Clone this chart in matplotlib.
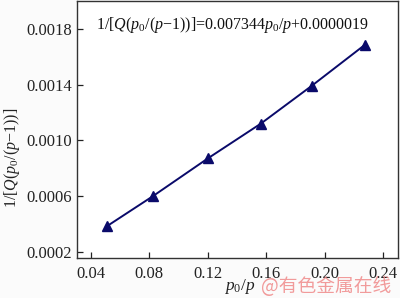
import matplotlib.pyplot as plt

# dados
p0_p = [0.0510, 0.0823, 0.1200, 0.1564, 0.1914, 0.2277]
inv_q = [0.000386, 0.000600, 0.000871, 0.001121, 0.001393, 0.001686]
xticks = [0.04, 0.08, 0.12, 0.16, 0.20, 0.24]
yticks = [0.0002, 0.0006, 0.0010, 0.0014, 0.0018]

plt.rcParams['font.family'] = ['Liberation Serif', 'DejaVu Serif']
plt.rcParams['mathtext.fontset'] = 'custom'
plt.rcParams['mathtext.rm'] = 'Liberation Serif'
plt.rcParams['mathtext.it'] = 'Liberation Serif:italic'

fig = plt.figure(figsize=(4, 2.98), dpi=100)
fig.patch.set_facecolor('#fbfbfb')
ax = fig.add_axes([0.1925, 0.134, 0.8025, 0.863])
ax.set_facecolor('white')

ax.plot(p0_p, inv_q, color='#0a0a6a', lw=1.4, marker='^', ms=6.5,
        markerfacecolor='#0a0a6a', markeredgecolor='#0a0a6a')

ax.set_xlim(0.0304, 0.2503)
ax.set_ylim(0.000157, 0.0020)
ax.set_xticks(xticks)
ax.set_xticklabels(['%.2f' % v for v in xticks])
ax.set_yticks(yticks)
ax.set_yticklabels(['%.4f' % v for v in yticks])
ax.tick_params(direction='in', length=4, width=0.9, labelsize=12, colors='#222222')
ax.tick_params(axis='x', pad=6)
for s in ax.spines.values():
    s.set_color('#333333')
    s.set_linewidth(1.0)

ax.text(0.06, 0.905, r'1/[$Q$($p_0$/($p$$-$1))]=0.007344$p_0$/$p$+0.0000019',
        transform=ax.transAxes, fontsize=11.5, va='center', color='#111111')

fig.text(0.60, 0.037, r'$p_0$/$p$', fontsize=12.5, ha='center', va='center', color='#222222')
fig.text(0.03, 0.47, r'1/[$Q$($p_0$/($p$$-$1))]', rotation=90, fontsize=11.5,
         ha='center', va='center', color='#222222')
fig.text(0.652, 0.037, '@有色金属在线', fontsize=13.5, color='#f08a8a', alpha=0.85,
         family=['Noto Sans CJK SC', 'DejaVu Sans'], va='center')

plt.savefig('out.png', dpi=100, facecolor=fig.get_facecolor())
plt.close()
